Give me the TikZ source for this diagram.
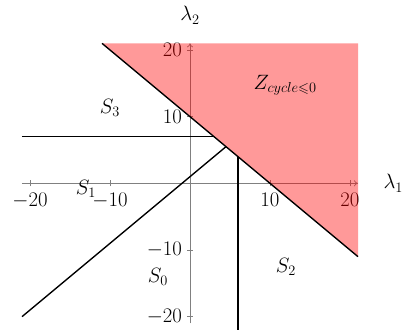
\documentclass[tikz,border=0pt]{standalone}
\usepackage{amssymb}
\usetikzlibrary{arrows.meta}
\begin{document}
\begin{tikzpicture}[x=8pt,y=6.6667pt,
  every node/.style={font=\fontsize{20}{24}\selectfont},
  axisline/.style={draw=gray,line width=0.7pt,-{To[length=4pt,width=6pt]}},
  tickmark/.style={draw=gray,line width=0.7pt},
  bound/.style={draw=black,line width=1.4pt},
  region/.style={fill=red,fill opacity=0.4}]
\useasboundingbox (-23.75,-21.85) rectangle (27,27.5);
% axes
\coordinate (xl) at (-21,0);
\coordinate (xr) at (21,0);
\coordinate (yb) at (0,-21);
\coordinate (yt) at (0,21);
\path[axisline] (xl) -- (xr);
\path[axisline] (yb) -- (yt);
\foreach \v/\t in {-20/$-20$,-10/$-10$,10/$10$,20/$20$}{
  \path[tickmark] (\v,-0.45) -- (\v,0.45);
  \node[anchor=north,yshift=-6pt] (xt\v) at (\v,0) {\t};
  \path[tickmark] (-0.375,\v) -- (0.375,\v);
  \node[anchor=east,xshift=-4.5pt] (yt\v) at (0,\v) {\t};
}
\node (l1) at (25.4,0) {$\lambda_1$};
\node (l2) at (0,25.2) {$\lambda_2$};
% red region
\coordinate (ra) at (-11,21);
\coordinate (rb) at (21,21);
\coordinate (rc) at (21,-11);
\path[region] (ra) -- (rb) -- (rc) -- cycle;
% boundaries
\coordinate (p0) at (-21,-20);
\coordinate (p1) at (4.5,5.5);
\coordinate (h0) at (-21,7);
\coordinate (h1) at (3,7);
\coordinate (v0) at (6,4);
\coordinate (v1) at (6,-22);
\draw[bound] (ra) -- (rc);
\draw[bound] (h0) -- (h1);
\draw[bound] (p0) -- (p1);
\draw[bound] (v0) -- (v1);
% labels
\node (s3) at (-10,11.3) {$S_3$};
\node (s1) at (-13,-0.8) {$S_1$};
\node (s0) at (-4,-14) {$S_0$};
\node (s2) at (12,-12.5) {$S_2$};
\node (z) at (11.9,14.7) {$Z_{cycle\leqslant 0}$};
\end{tikzpicture}
\end{document}
